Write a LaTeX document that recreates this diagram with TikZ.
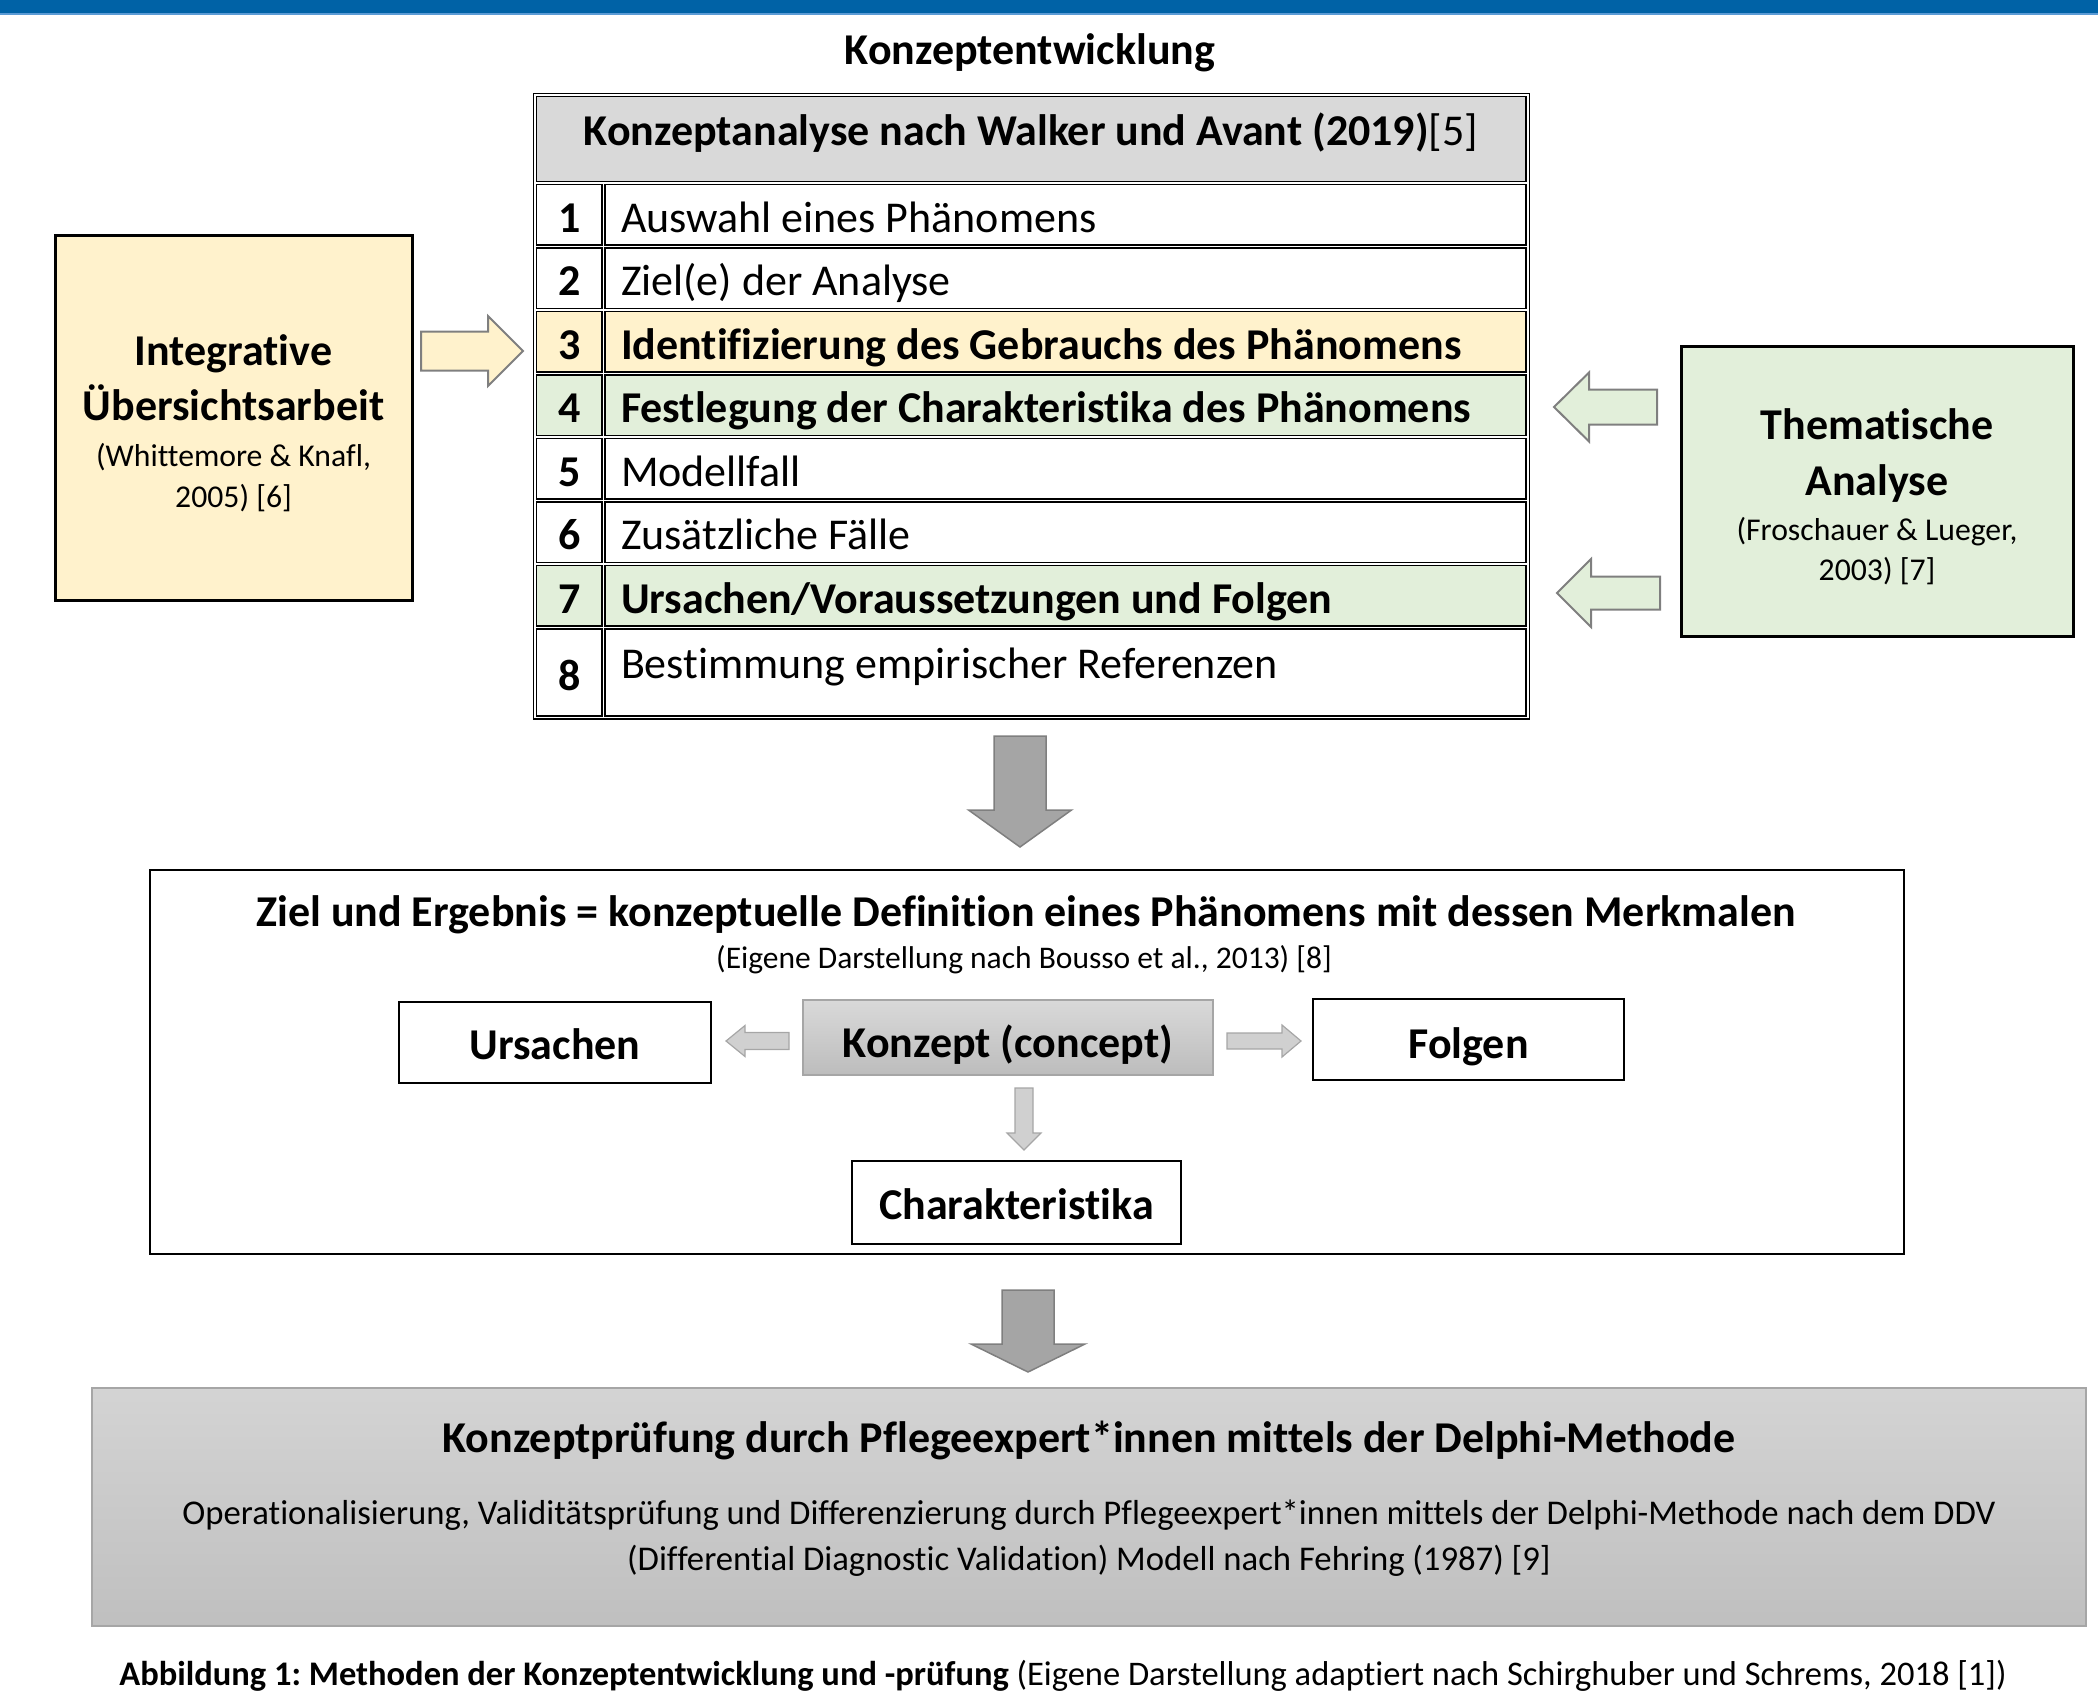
\documentclass[tikz,border=0pt]{standalone}
\usepackage{fontspec}
\setmainfont{Carlito}[Ligatures=NoCommon]
\definecolor{barblue}{HTML}{0062A6}
\definecolor{barlight}{HTML}{5B9BD5}
\definecolor{yel}{HTML}{FFF2CC}
\definecolor{grn}{HTML}{E2EFDA}
\definecolor{hdr}{HTML}{D9D9D9}
\definecolor{arrgray}{HTML}{7F7F7F}
\definecolor{bigfill}{HTML}{A5A5A5}
\definecolor{smallfill}{HTML}{D0D0D0}
\definecolor{lgborder}{HTML}{A6A6A6}
\newcommand\mkbox[6]{\node[#6, minimum width={#4-#2}, minimum height={#5-#3}, inner sep=0pt, outer sep=0pt] (#1) at ({(#2+#4)/2},{(#3+#5)/2}) {};}
\newcommand\blkH[7]{\draw[#1] (#2,#5-#6) -- (#3,#5-#6) -- (#3,#5-#7) -- (#4,#5) -- (#3,#5+#7) -- (#3,#5+#6) -- (#2,#5+#6) -- cycle;}
\newcommand\blkV[7]{\draw[#1] (#5-#6,#2) -- (#5+#6,#2) -- (#5+#6,#3) -- (#5+#7,#3) -- (#5,#4) -- (#5-#7,#3) -- (#5-#6,#3) -- cycle;}
\begin{document}
\frenchspacing
\begin{tikzpicture}[x=1pt,y=-1pt,
  cellb/.style={draw=black, line width=1.3pt},
  thickb/.style={draw=black, line width=3pt},
  midb/.style={draw=black, line width=2.5pt},
  txt/.style={anchor=base, inner sep=0pt, outer sep=0pt},
  txtw/.style={anchor=base west, inner sep=0pt, outer sep=0pt},
  fbig/.style={font=\fontsize{44}{52}\selectfont},
  fbigb/.style={font=\fontsize{44}{52}\selectfont\bfseries},
  fsmall/.style={font=\fontsize{31.7}{38}\selectfont},
  fbody/.style={font=\fontsize{34.7}{42}\selectfont},
  yarrow/.style={fill=yel, draw=arrgray, line width=2pt},
  garrow/.style={fill=grn, draw=arrgray, line width=2pt},
  bigarrow/.style={fill=bigfill, draw=arrgray, line width=1.5pt},
  smallarrow/.style={fill=smallfill, draw=lgborder, line width=1.2pt}
]
\useasboundingbox (0,0) rectangle (2098,1691);
% top bar
\fill[barblue] (0,0) rectangle (2098,14);
\fill[barlight] (0,13.5) rectangle (2098,15.5);

% title
\node[txt, font=\fontsize{44}{52}\selectfont\bfseries] (title) at (1030,65) {Konzeptentwicklung};

% table
\mkbox{tabouter}{533.5}{93.5}{1529.5}{719}{cellb}
\mkbox{hdrcell}{536.5}{96.5}{1526}{181.5}{cellb, fill=hdr}
\node[txt, fbig] (hdrtxt) at (1031,146) {\textbf{Konzeptanalyse nach Walker und Avant (2019)}[5]};

\mkbox{n1}{536.5}{184.5}{602}{245}{cellb}
\mkbox{t1}{605}{184.5}{1526}{245}{cellb}
\mkbox{n2}{536.5}{248}{602}{308.5}{cellb}
\mkbox{t2}{605}{248}{1526}{308.5}{cellb}
\mkbox{n3}{536.5}{311.5}{602}{372}{cellb, fill=yel}
\mkbox{t3}{605}{311.5}{1526}{372}{cellb, fill=yel}
\mkbox{n4}{536.5}{375}{602}{435.5}{cellb, fill=grn}
\mkbox{t4}{605}{375}{1526}{435.5}{cellb, fill=grn}
\mkbox{n5}{536.5}{438.5}{602}{499}{cellb}
\mkbox{t5}{605}{438.5}{1526}{499}{cellb}
\mkbox{n6}{536.5}{502}{602}{562.5}{cellb}
\mkbox{t6}{605}{502}{1526}{562.5}{cellb}
\mkbox{n7}{536.5}{565.5}{602}{626}{cellb, fill=grn}
\mkbox{t7}{605}{565.5}{1526}{626}{cellb, fill=grn}
\mkbox{n8}{536.5}{629}{602}{716}{cellb}
\mkbox{t8}{605}{629}{1526}{716}{cellb}

\node[txt, fbigb] (l1) at (569.5,232) {1};
\node[txtw, fbig] (s1) at (621,232) {Auswahl eines Phänomens};
\node[txt, fbigb] (l2) at (569.5,295.5) {2};
\node[txtw, fbig] (s2) at (621,295.5) {Ziel(e) der Analyse};
\node[txt, fbigb] (l3) at (569.5,359) {3};
\node[txtw, fbigb] (s3) at (621,359) {Identifizierung des Gebrauchs des Phänomens};
\node[txt, fbigb] (l4) at (569.5,422.5) {4};
\node[txtw, fbigb] (s4) at (621,422.5) {Festlegung der Charakteristika des Phänomens};
\node[txt, fbigb] (l5) at (569.5,486) {5};
\node[txtw, fbig] (s5) at (621,486) {Modellfall};
\node[txt, fbigb] (l6) at (569.5,549.5) {6};
\node[txtw, fbig] (s6) at (621,549.5) {Zusätzliche Fälle};
\node[txt, fbigb] (l7) at (569.5,613) {7};
\node[txtw, fbigb] (s7) at (621,613) {Ursachen/Voraussetzungen und Folgen};
\node[txt, fbigb] (l8) at (569.5,690) {8};
\node[txtw, fbig] (s8) at (621,678) {Bestimmung empirischer Referenzen};

% left box
\mkbox{leftbox}{55}{235}{412}{600}{thickb, fill=yel}
\node[txt, fbigb] (lb1) at (233.5,365) {Integrative};
\node[txt, fbigb] (lb2) at (233.5,420) {Übersichtsarbeit};
\node[txt, fsmall] (lb3) at (233.5,466) {(Whittemore \& Knafl,};
\node[txt, fsmall] (lb4) at (233.5,507) {2005) [6]};

% right box
\mkbox{rightbox}{1681}{346}{2073}{636}{thickb, fill=grn}
\node[txt, fbigb] (rb1) at (1877,439) {Thematische};
\node[txt, fbigb] (rb2) at (1877,495) {Analyse};
\node[txt, fsmall] (rb3) at (1877,540) {(Froschauer \& Lueger,};
\node[txt, fsmall] (rb4) at (1877,580) {2003) [7]};

% side arrows
\blkH{yarrow}{421}{488}{523}{351}{19.5}{35}
\blkH{garrow}{1657}{1589}{1554}{407}{17.5}{34.5}
\blkH{garrow}{1660}{1591}{1557}{593}{16.5}{34}

% big down arrow 1
\blkV{bigarrow}{736}{810}{847}{1020}{26}{51.5}

% Ziel box
\mkbox{zielbox}{150}{870}{1904}{1254}{midb}
\node[txt, font=\fontsize{44}{52}\selectfont\bfseries] (zt) at (1026,926) {Ziel und Ergebnis = konzeptuelle Definition eines Phänomens mit dessen Merkmalen};
\node[txt, font=\fontsize{31.5}{38}\selectfont] (zs) at (1024,968) {(Eigene Darstellung nach Bousso et al., 2013) [8]};

\mkbox{urs}{399}{1002}{711}{1083}{midb}
\node[txt, font=\fontsize{44}{52}\selectfont\bfseries] at (555,1059) {Ursachen};
\mkbox{konz}{803}{1000}{1213}{1075}{draw=lgborder, line width=1.5pt, top color=hdr, bottom color=black!26}
\node[txt, font=\fontsize{44}{52}\selectfont\bfseries] at (1008,1057) {Konzept (concept)};
\mkbox{folg}{1313}{999}{1624}{1080}{midb}
\node[txt, font=\fontsize{44}{52}\selectfont\bfseries] at (1468.5,1058) {Folgen};
\mkbox{chara}{852}{1161}{1181}{1244}{midb}
\node[txt, font=\fontsize{44}{52}\selectfont\bfseries] at (1016.5,1219) {Charakteristika};

\blkH{smallarrow}{789}{745}{726}{1041}{8.5}{15.5}
\blkH{smallarrow}{1227}{1282}{1301}{1041}{8}{16}
\blkV{smallarrow}{1088}{1133}{1150}{1024}{9}{17}

% big down arrow 2
\blkV{bigarrow}{1290}{1344}{1372}{1028}{26}{57}

% bottom box
\mkbox{delphi}{92}{1388}{2086}{1626}{draw=lgborder, line width=1.5pt, top color=black!17, bottom color=black!25}
\node[txt, font=\fontsize{44}{52}\selectfont\bfseries] (dt) at (1089,1452) {Konzeptprüfung durch Pflegeexpert*innen mittels der Delphi-Methode};
\node[txt, fbody] (d1) at (1089,1524) {Operationalisierung, Validitätsprüfung und Differenzierung durch Pflegeexpert*innen mittels der Delphi-Methode nach dem DDV};
\node[txt, fbody] (d2) at (1089,1570) {(Differential Diagnostic Validation) Modell nach Fehring (1987) [9]};

% caption
\node[txt, font=\fontsize{34.5}{41}\selectfont] (cap) at (1063,1685) {\textbf{Abbildung 1: Methoden der Konzeptentwicklung und -prüfung} (Eigene Darstellung adaptiert nach Schirghuber und Schrems, 2018 [1])};
\end{tikzpicture}
\end{document}
